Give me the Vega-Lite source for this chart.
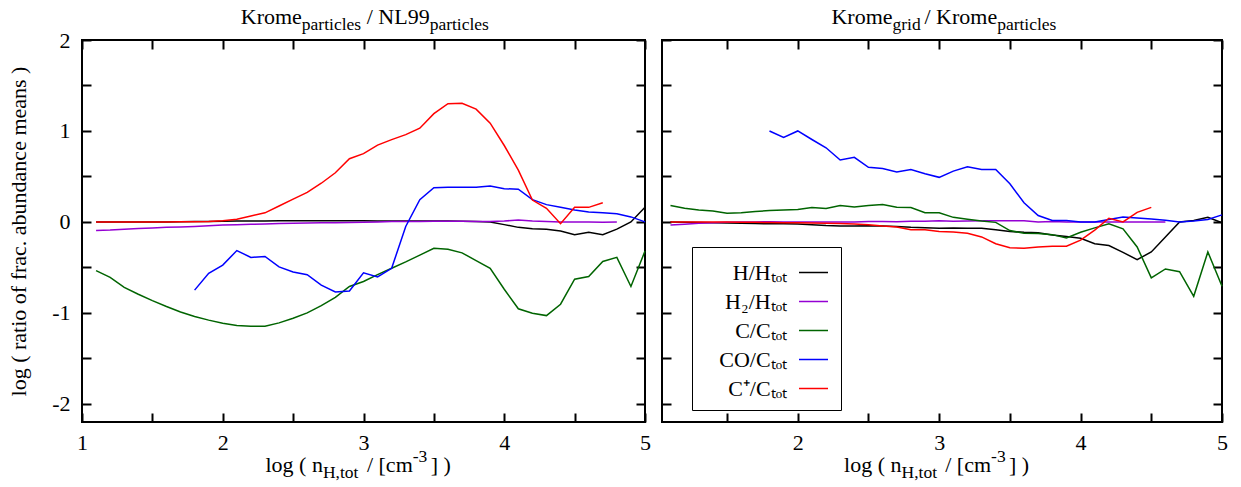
{
"$schema": "https://vega.github.io/schema/vega-lite/v6.json",
"background": "white",
"padding": {"left": 6, "top": 4, "right": 10, "bottom": 5},
"spacing": 8,
"config": {
 "view": {"stroke": "black", "strokeWidth": 2},
 "font": "Liberation Serif",
 "axis": {"grid": false, "domain": false, "tickColor": "black", "tickSize": -9, "tickWidth": 2, "labelFont": "Liberation Serif", "labelFontSize": 22, "labelColor": "black", "labelFlush": false, "labelOverlap": false, "titleFont": "Liberation Serif", "titleFontSize": 22, "titleFontWeight": "normal", "titleColor": "black"},
 "text": {"font": "Liberation Serif", "fontSize": 22, "baseline": "alphabetic", "color": "black"},
 "line": {"strokeWidth": 1.5}
},
"datasets": {
"L": [
{"s":"H","x":1.1,"y":0},{"s":"H","x":1.2,"y":0},{"s":"H","x":1.3,"y":0},{"s":"H","x":1.4,"y":0},{"s":"H","x":1.5,"y":0},{"s":"H","x":1.6,"y":0},{"s":"H","x":1.7,"y":0.002},{"s":"H","x":1.8,"y":0.004},{"s":"H","x":1.9,"y":0.005},{"s":"H","x":2.0,"y":0.008},{"s":"H","x":2.1,"y":0.01},{"s":"H","x":2.2,"y":0.01},{"s":"H","x":2.3,"y":0.01},{"s":"H","x":2.4,"y":0.012},{"s":"H","x":2.5,"y":0.013},{"s":"H","x":2.6,"y":0.013},{"s":"H","x":2.7,"y":0.014},{"s":"H","x":2.8,"y":0.014},{"s":"H","x":2.9,"y":0.013},{"s":"H","x":3.0,"y":0.012},{"s":"H","x":3.1,"y":0.01},{"s":"H","x":3.2,"y":0.01},{"s":"H","x":3.3,"y":0.01},{"s":"H","x":3.4,"y":0.01},{"s":"H","x":3.5,"y":0.01},{"s":"H","x":3.6,"y":0.01},{"s":"H","x":3.7,"y":0.008},{"s":"H","x":3.8,"y":0.005},{"s":"H","x":3.9,"y":0},{"s":"H","x":4.0,"y":-0.03},{"s":"H","x":4.1,"y":-0.06},{"s":"H","x":4.2,"y":-0.075},{"s":"H","x":4.3,"y":-0.08},{"s":"H","x":4.4,"y":-0.1},{"s":"H","x":4.5,"y":-0.14},{"s":"H","x":4.6,"y":-0.115},{"s":"H","x":4.7,"y":-0.14},{"s":"H","x":4.8,"y":-0.08},{"s":"H","x":4.9,"y":0},{"s":"H","x":5.0,"y":0.16},
{"s":"H2","x":1.1,"y":-0.095},{"s":"H2","x":1.2,"y":-0.09},{"s":"H2","x":1.3,"y":-0.08},{"s":"H2","x":1.4,"y":-0.072},{"s":"H2","x":1.5,"y":-0.066},{"s":"H2","x":1.6,"y":-0.06},{"s":"H2","x":1.7,"y":-0.055},{"s":"H2","x":1.8,"y":-0.05},{"s":"H2","x":1.9,"y":-0.042},{"s":"H2","x":2.0,"y":-0.035},{"s":"H2","x":2.1,"y":-0.03},{"s":"H2","x":2.2,"y":-0.026},{"s":"H2","x":2.3,"y":-0.022},{"s":"H2","x":2.4,"y":-0.018},{"s":"H2","x":2.5,"y":-0.015},{"s":"H2","x":2.6,"y":-0.012},{"s":"H2","x":2.7,"y":-0.01},{"s":"H2","x":2.8,"y":-0.008},{"s":"H2","x":2.9,"y":-0.006},{"s":"H2","x":3.0,"y":-0.004},{"s":"H2","x":3.1,"y":0},{"s":"H2","x":3.2,"y":0.004},{"s":"H2","x":3.3,"y":0.005},{"s":"H2","x":3.4,"y":0.005},{"s":"H2","x":3.5,"y":0.006},{"s":"H2","x":3.6,"y":0.006},{"s":"H2","x":3.7,"y":0.006},{"s":"H2","x":3.8,"y":0.004},{"s":"H2","x":3.9,"y":0.005},{"s":"H2","x":4.0,"y":0.01},{"s":"H2","x":4.1,"y":0.02},{"s":"H2","x":4.2,"y":0.01},{"s":"H2","x":4.3,"y":0.004},{"s":"H2","x":4.4,"y":0},{"s":"H2","x":4.5,"y":0},{"s":"H2","x":4.6,"y":0},{"s":"H2","x":4.7,"y":-0.004},{"s":"H2","x":4.8,"y":-0.002},
{"s":"C","x":1.1,"y":-0.535},{"s":"C","x":1.2,"y":-0.61},{"s":"C","x":1.3,"y":-0.72},{"s":"C","x":1.4,"y":-0.795},{"s":"C","x":1.5,"y":-0.865},{"s":"C","x":1.6,"y":-0.93},{"s":"C","x":1.7,"y":-0.99},{"s":"C","x":1.8,"y":-1.04},{"s":"C","x":1.9,"y":-1.08},{"s":"C","x":2.0,"y":-1.115},{"s":"C","x":2.1,"y":-1.14},{"s":"C","x":2.2,"y":-1.146},{"s":"C","x":2.3,"y":-1.146},{"s":"C","x":2.4,"y":-1.11},{"s":"C","x":2.5,"y":-1.06},{"s":"C","x":2.6,"y":-1.0},{"s":"C","x":2.7,"y":-0.92},{"s":"C","x":2.8,"y":-0.83},{"s":"C","x":2.9,"y":-0.71},{"s":"C","x":3.0,"y":-0.655},{"s":"C","x":3.1,"y":-0.58},{"s":"C","x":3.2,"y":-0.51},{"s":"C","x":3.3,"y":-0.44},{"s":"C","x":3.4,"y":-0.365},{"s":"C","x":3.5,"y":-0.29},{"s":"C","x":3.6,"y":-0.3},{"s":"C","x":3.7,"y":-0.34},{"s":"C","x":3.8,"y":-0.425},{"s":"C","x":3.9,"y":-0.51},{"s":"C","x":4.0,"y":-0.74},{"s":"C","x":4.1,"y":-0.955},{"s":"C","x":4.2,"y":-1.005},{"s":"C","x":4.3,"y":-1.03},{"s":"C","x":4.4,"y":-0.905},{"s":"C","x":4.5,"y":-0.63},{"s":"C","x":4.6,"y":-0.6},{"s":"C","x":4.7,"y":-0.435},{"s":"C","x":4.8,"y":-0.39},{"s":"C","x":4.9,"y":-0.71},{"s":"C","x":5.0,"y":-0.32},
{"s":"CO","x":1.8,"y":-0.75},{"s":"CO","x":1.9,"y":-0.565},{"s":"CO","x":2.0,"y":-0.475},{"s":"CO","x":2.1,"y":-0.315},{"s":"CO","x":2.2,"y":-0.39},{"s":"CO","x":2.3,"y":-0.38},{"s":"CO","x":2.4,"y":-0.495},{"s":"CO","x":2.5,"y":-0.55},{"s":"CO","x":2.6,"y":-0.58},{"s":"CO","x":2.7,"y":-0.695},{"s":"CO","x":2.8,"y":-0.77},{"s":"CO","x":2.9,"y":-0.76},{"s":"CO","x":3.0,"y":-0.56},{"s":"CO","x":3.1,"y":-0.605},{"s":"CO","x":3.2,"y":-0.51},{"s":"CO","x":3.3,"y":-0.05},{"s":"CO","x":3.4,"y":0.245},{"s":"CO","x":3.5,"y":0.375},{"s":"CO","x":3.6,"y":0.38},{"s":"CO","x":3.7,"y":0.38},{"s":"CO","x":3.8,"y":0.38},{"s":"CO","x":3.9,"y":0.395},{"s":"CO","x":4.0,"y":0.365},{"s":"CO","x":4.1,"y":0.36},{"s":"CO","x":4.2,"y":0.245},{"s":"CO","x":4.3,"y":0.19},{"s":"CO","x":4.4,"y":0.16},{"s":"CO","x":4.5,"y":0.13},{"s":"CO","x":4.6,"y":0.11},{"s":"CO","x":4.7,"y":0.1},{"s":"CO","x":4.8,"y":0.09},{"s":"CO","x":4.9,"y":0.055},{"s":"CO","x":5.0,"y":0},
{"s":"Cp","x":1.1,"y":0},{"s":"Cp","x":1.2,"y":0},{"s":"Cp","x":1.3,"y":0},{"s":"Cp","x":1.4,"y":0},{"s":"Cp","x":1.5,"y":0},{"s":"Cp","x":1.6,"y":0},{"s":"Cp","x":1.7,"y":0.001},{"s":"Cp","x":1.8,"y":0.002},{"s":"Cp","x":1.9,"y":0.005},{"s":"Cp","x":2.0,"y":0.012},{"s":"Cp","x":2.1,"y":0.03},{"s":"Cp","x":2.2,"y":0.065},{"s":"Cp","x":2.3,"y":0.1},{"s":"Cp","x":2.4,"y":0.175},{"s":"Cp","x":2.5,"y":0.25},{"s":"Cp","x":2.6,"y":0.325},{"s":"Cp","x":2.7,"y":0.425},{"s":"Cp","x":2.8,"y":0.54},{"s":"Cp","x":2.9,"y":0.695},{"s":"Cp","x":3.0,"y":0.75},{"s":"Cp","x":3.1,"y":0.845},{"s":"Cp","x":3.2,"y":0.905},{"s":"Cp","x":3.3,"y":0.96},{"s":"Cp","x":3.4,"y":1.03},{"s":"Cp","x":3.5,"y":1.19},{"s":"Cp","x":3.6,"y":1.3},{"s":"Cp","x":3.7,"y":1.305},{"s":"Cp","x":3.8,"y":1.24},{"s":"Cp","x":3.9,"y":1.085},{"s":"Cp","x":4.0,"y":0.84},{"s":"Cp","x":4.1,"y":0.57},{"s":"Cp","x":4.2,"y":0.24},{"s":"Cp","x":4.3,"y":0.15},{"s":"Cp","x":4.4,"y":-0.02},{"s":"Cp","x":4.5,"y":0.16},{"s":"Cp","x":4.6,"y":0.16},{"s":"Cp","x":4.7,"y":0.21}
],
"R": [
{"s":"H","x":1.1,"y":0},{"s":"H","x":1.2,"y":-0.003},{"s":"H","x":1.3,"y":-0.006},{"s":"H","x":1.4,"y":-0.01},{"s":"H","x":1.5,"y":-0.012},{"s":"H","x":1.6,"y":-0.015},{"s":"H","x":1.7,"y":-0.018},{"s":"H","x":1.8,"y":-0.02},{"s":"H","x":1.9,"y":-0.02},{"s":"H","x":2.0,"y":-0.022},{"s":"H","x":2.1,"y":-0.03},{"s":"H","x":2.2,"y":-0.04},{"s":"H","x":2.3,"y":-0.045},{"s":"H","x":2.4,"y":-0.045},{"s":"H","x":2.5,"y":-0.042},{"s":"H","x":2.6,"y":-0.045},{"s":"H","x":2.7,"y":-0.05},{"s":"H","x":2.8,"y":-0.06},{"s":"H","x":2.9,"y":-0.065},{"s":"H","x":3.0,"y":-0.07},{"s":"H","x":3.1,"y":-0.068},{"s":"H","x":3.2,"y":-0.07},{"s":"H","x":3.3,"y":-0.07},{"s":"H","x":3.4,"y":-0.085},{"s":"H","x":3.5,"y":-0.105},{"s":"H","x":3.6,"y":-0.115},{"s":"H","x":3.7,"y":-0.12},{"s":"H","x":3.8,"y":-0.145},{"s":"H","x":3.9,"y":-0.16},{"s":"H","x":4.0,"y":-0.18},{"s":"H","x":4.1,"y":-0.24},{"s":"H","x":4.2,"y":-0.26},{"s":"H","x":4.3,"y":-0.335},{"s":"H","x":4.4,"y":-0.415},{"s":"H","x":4.5,"y":-0.33},{"s":"H","x":4.6,"y":-0.165},{"s":"H","x":4.7,"y":0},{"s":"H","x":4.8,"y":0.015},{"s":"H","x":4.9,"y":0.05},{"s":"H","x":5.0,"y":-0.01},
{"s":"H2","x":1.1,"y":-0.035},{"s":"H2","x":1.2,"y":-0.025},{"s":"H2","x":1.3,"y":-0.015},{"s":"H2","x":1.4,"y":-0.008},{"s":"H2","x":1.5,"y":-0.004},{"s":"H2","x":1.6,"y":-0.002},{"s":"H2","x":1.7,"y":0},{"s":"H2","x":1.8,"y":0.002},{"s":"H2","x":1.9,"y":0},{"s":"H2","x":2.0,"y":-0.002},{"s":"H2","x":2.1,"y":0},{"s":"H2","x":2.2,"y":0},{"s":"H2","x":2.3,"y":0},{"s":"H2","x":2.4,"y":-0.002},{"s":"H2","x":2.5,"y":0.004},{"s":"H2","x":2.6,"y":0.005},{"s":"H2","x":2.7,"y":0.002},{"s":"H2","x":2.8,"y":0.006},{"s":"H2","x":2.9,"y":0.007},{"s":"H2","x":3.0,"y":0.014},{"s":"H2","x":3.1,"y":0.006},{"s":"H2","x":3.2,"y":0.01},{"s":"H2","x":3.3,"y":0.012},{"s":"H2","x":3.4,"y":0.012},{"s":"H2","x":3.5,"y":0.014},{"s":"H2","x":3.6,"y":0.012},{"s":"H2","x":3.7,"y":0},{"s":"H2","x":3.8,"y":0.004},{"s":"H2","x":3.9,"y":0},{"s":"H2","x":4.0,"y":0},{"s":"H2","x":4.1,"y":0},{"s":"H2","x":4.2,"y":0},{"s":"H2","x":4.3,"y":0},{"s":"H2","x":4.4,"y":0},{"s":"H2","x":4.5,"y":0},{"s":"H2","x":4.6,"y":0},
{"s":"C","x":1.1,"y":0.18},{"s":"C","x":1.2,"y":0.15},{"s":"C","x":1.3,"y":0.13},{"s":"C","x":1.4,"y":0.12},{"s":"C","x":1.5,"y":0.095},{"s":"C","x":1.6,"y":0.1},{"s":"C","x":1.7,"y":0.114},{"s":"C","x":1.8,"y":0.125},{"s":"C","x":1.9,"y":0.13},{"s":"C","x":2.0,"y":0.136},{"s":"C","x":2.1,"y":0.158},{"s":"C","x":2.2,"y":0.147},{"s":"C","x":2.3,"y":0.18},{"s":"C","x":2.4,"y":0.165},{"s":"C","x":2.5,"y":0.18},{"s":"C","x":2.6,"y":0.19},{"s":"C","x":2.7,"y":0.16},{"s":"C","x":2.8,"y":0.158},{"s":"C","x":2.9,"y":0.1},{"s":"C","x":3.0,"y":0.1},{"s":"C","x":3.1,"y":0.05},{"s":"C","x":3.2,"y":0.03},{"s":"C","x":3.3,"y":0.01},{"s":"C","x":3.4,"y":-0.005},{"s":"C","x":3.5,"y":-0.095},{"s":"C","x":3.6,"y":-0.125},{"s":"C","x":3.7,"y":-0.128},{"s":"C","x":3.8,"y":-0.14},{"s":"C","x":3.9,"y":-0.176},{"s":"C","x":4.0,"y":-0.114},{"s":"C","x":4.1,"y":-0.066},{"s":"C","x":4.2,"y":-0.02},{"s":"C","x":4.3,"y":-0.077},{"s":"C","x":4.4,"y":-0.275},{"s":"C","x":4.5,"y":-0.616},{"s":"C","x":4.6,"y":-0.517},{"s":"C","x":4.7,"y":-0.547},{"s":"C","x":4.8,"y":-0.818},{"s":"C","x":4.9,"y":-0.33},{"s":"C","x":5.0,"y":-0.708},
{"s":"CO","x":1.8,"y":1.0},{"s":"CO","x":1.9,"y":0.93},{"s":"CO","x":2.0,"y":1.0},{"s":"CO","x":2.1,"y":0.906},{"s":"CO","x":2.2,"y":0.815},{"s":"CO","x":2.3,"y":0.68},{"s":"CO","x":2.4,"y":0.71},{"s":"CO","x":2.5,"y":0.6},{"s":"CO","x":2.6,"y":0.587},{"s":"CO","x":2.7,"y":0.55},{"s":"CO","x":2.8,"y":0.576},{"s":"CO","x":2.9,"y":0.53},{"s":"CO","x":3.0,"y":0.49},{"s":"CO","x":3.1,"y":0.558},{"s":"CO","x":3.2,"y":0.605},{"s":"CO","x":3.3,"y":0.576},{"s":"CO","x":3.4,"y":0.576},{"s":"CO","x":3.5,"y":0.42},{"s":"CO","x":3.6,"y":0.21},{"s":"CO","x":3.7,"y":0.07},{"s":"CO","x":3.8,"y":0.015},{"s":"CO","x":3.9,"y":0.015},{"s":"CO","x":4.0,"y":0},{"s":"CO","x":4.1,"y":0},{"s":"CO","x":4.2,"y":0.026},{"s":"CO","x":4.3,"y":0.055},{"s":"CO","x":4.4,"y":0.044},{"s":"CO","x":4.5,"y":0.033},{"s":"CO","x":4.6,"y":0.018},{"s":"CO","x":4.7,"y":0},{"s":"CO","x":4.8,"y":0.01},{"s":"CO","x":4.9,"y":0.026},{"s":"CO","x":5.0,"y":0.077},
{"s":"Cp","x":1.1,"y":0},{"s":"Cp","x":1.2,"y":0},{"s":"Cp","x":1.3,"y":0},{"s":"Cp","x":1.4,"y":0},{"s":"Cp","x":1.5,"y":-0.002},{"s":"Cp","x":1.6,"y":-0.004},{"s":"Cp","x":1.7,"y":-0.005},{"s":"Cp","x":1.8,"y":-0.006},{"s":"Cp","x":1.9,"y":-0.008},{"s":"Cp","x":2.0,"y":-0.01},{"s":"Cp","x":2.1,"y":-0.012},{"s":"Cp","x":2.2,"y":-0.015},{"s":"Cp","x":2.3,"y":-0.018},{"s":"Cp","x":2.4,"y":-0.022},{"s":"Cp","x":2.5,"y":-0.03},{"s":"Cp","x":2.6,"y":-0.045},{"s":"Cp","x":2.7,"y":-0.055},{"s":"Cp","x":2.8,"y":-0.085},{"s":"Cp","x":2.9,"y":-0.085},{"s":"Cp","x":3.0,"y":-0.105},{"s":"Cp","x":3.1,"y":-0.11},{"s":"Cp","x":3.2,"y":-0.125},{"s":"Cp","x":3.3,"y":-0.165},{"s":"Cp","x":3.4,"y":-0.24},{"s":"Cp","x":3.5,"y":-0.285},{"s":"Cp","x":3.6,"y":-0.29},{"s":"Cp","x":3.7,"y":-0.275},{"s":"Cp","x":3.8,"y":-0.268},{"s":"Cp","x":3.9,"y":-0.268},{"s":"Cp","x":4.0,"y":-0.2},{"s":"Cp","x":4.1,"y":-0.09},{"s":"Cp","x":4.2,"y":0.04},{"s":"Cp","x":4.3,"y":0},{"s":"Cp","x":4.4,"y":0.105},{"s":"Cp","x":4.5,"y":0.16}
]
},
"hconcat": [
{
 "width": 563, "height": 382,
 "layer": [
  {"data": {"name": "L"}, "mark": {"type": "line", "strokeWidth": 1.5},
   "encoding": {
    "x": {"field": "x", "type": "quantitative", "scale": {"domain": [1, 5], "nice": false, "zero": false},
          "axis": {"orient": "bottom", "values": [1,1.5,2,2.5,3,3.5,4,4.5,5], "labelExpr": "datum.value % 1 == 0 ? '' + datum.value : ''", "title": null, "labelPadding": 19}},
    "y": {"field": "y", "type": "quantitative", "scale": {"domain": [-2.2, 2], "nice": false, "zero": false},
          "axis": {"orient": "left", "values": [-2,-1.5,-1,-0.5,0,0.5,1,1.5,2], "labelExpr": "datum.value % 1 == 0 ? '' + datum.value : ''", "title": "log ( ratio of frac. abundance means )", "labelPadding": 21, "titlePadding": 21}},
    "color": {"field": "s", "type": "nominal", "scale": {"domain": ["H","H2","C","CO","Cp"], "range": ["#000000","#9400d3","#006400","#0000ff","#ff0000"]}, "legend": null}
   }},
  {"data": {"values": [{}]}, "mark": {"type": "text", "text": "Krome", "align": "right"},
   "encoding": {
    "x": {"datum": 2.562, "type": "quantitative", "scale": {"domain": [1, 5], "nice": false, "zero": false}, "axis": {"orient": "top", "values": [1,1.5,2,2.5,3,3.5,4,4.5,5], "labels": false, "title": null}},
    "y": {"datum": 2.176, "type": "quantitative", "scale": {"domain": [-2.2, 2], "nice": false, "zero": false}, "axis": {"orient": "right", "values": [-2,-1.5,-1,-0.5,0,0.5,1,1.5,2], "labels": false, "title": null}}
   }},
  {"data": {"values": [{}]}, "mark": {"type": "text", "text": "particles", "align": "left", "fontSize": 17.5},
   "encoding": {"x": {"datum": 2.562, "type": "quantitative", "axis": null}, "y": {"datum": 2.11, "type": "quantitative", "axis": null}}},
  {"data": {"values": [{}]}, "mark": {"type": "text", "text": "/ NL99", "align": "right"},
   "encoding": {"x": {"datum": 3.47, "type": "quantitative", "axis": null}, "y": {"datum": 2.176, "type": "quantitative", "axis": null}}},
  {"data": {"values": [{}]}, "mark": {"type": "text", "text": "particles", "align": "left", "fontSize": 17.5},
   "encoding": {"x": {"datum": 3.47, "type": "quantitative", "axis": null}, "y": {"datum": 2.11, "type": "quantitative", "axis": null}}},
  {"data": {"values": [{}]}, "mark": {"type": "text", "text": "log ( n", "align": "right"},
   "encoding": {"x": {"datum": 2.712, "type": "quantitative", "axis": null}, "y": {"datum": -2.749, "type": "quantitative", "axis": null}}},
  {"data": {"values": [{}]}, "mark": {"type": "text", "text": "H,tot", "align": "left", "fontSize": 17.5},
   "encoding": {"x": {"datum": 2.712, "type": "quantitative", "axis": null}, "y": {"datum": -2.815, "type": "quantitative", "axis": null}}},
  {"data": {"values": [{}]}, "mark": {"type": "text", "text": "/ [cm", "align": "right"},
   "encoding": {"x": {"datum": 3.35, "type": "quantitative", "axis": null}, "y": {"datum": -2.749, "type": "quantitative", "axis": null}}},
  {"data": {"values": [{}]}, "mark": {"type": "text", "text": "-3", "align": "left", "fontSize": 17.5},
   "encoding": {"x": {"datum": 3.35, "type": "quantitative", "axis": null}, "y": {"datum": -2.64, "type": "quantitative", "axis": null}}},
  {"data": {"values": [{}]}, "mark": {"type": "text", "text": "] )", "align": "left"},
   "encoding": {"x": {"datum": 3.478, "type": "quantitative", "axis": null}, "y": {"datum": -2.749, "type": "quantitative", "axis": null}}}
 ],
 "resolve": {"axis": {"x": "independent", "y": "independent"}}
},
{
 "width": 560, "height": 382,
 "layer": [
  {"data": {"name": "R"}, "mark": {"type": "line", "strokeWidth": 1.5},
   "encoding": {
    "x": {"field": "x", "type": "quantitative", "scale": {"domain": [1.04, 5], "nice": false, "zero": false},
          "axis": {"orient": "bottom", "values": [1.5,2,2.5,3,3.5,4,4.5,5], "labelExpr": "datum.value % 1 == 0 ? '' + datum.value : ''", "title": null, "labelPadding": 19}},
    "y": {"field": "y", "type": "quantitative", "scale": {"domain": [-2.2, 2], "nice": false, "zero": false},
          "axis": {"orient": "left", "values": [-2,-1.5,-1,-0.5,0,0.5,1,1.5,2], "labels": false, "title": null}},
    "color": {"field": "s", "type": "nominal", "scale": {"domain": ["H","H2","C","CO","Cp"], "range": ["#000000","#9400d3","#006400","#0000ff","#ff0000"]},
      "legend": {"orient": "none", "legendX": 30, "legendY": 207, "title": null, "symbolType": "stroke", "symbolSize": 841, "symbolStrokeWidth": 1.5, "symbolOffset": 96, "labelFont": "Liberation Serif", "labelFontSize": 22, "labelColor": "black", "labelAlign": "right", "labelOffset": -42, "strokeColor": "black", "fillColor": "white", "padding": 10, "rowPadding": 2,
        "labelExpr": "datum.value == 'H' ? 'H/Hₜₒₜ' : datum.value == 'H2' ? 'H₂/Hₜₒₜ' : datum.value == 'C' ? 'C/Cₜₒₜ' : datum.value == 'CO' ? 'CO/Cₜₒₜ' : 'C⁺/Cₜₒₜ'"}}
   }},
  {"data": {"values": [{}]}, "mark": {"type": "text", "text": "Krome", "align": "right"},
   "encoding": {
    "x": {"datum": 2.67, "type": "quantitative", "scale": {"domain": [1.04, 5], "nice": false, "zero": false}, "axis": {"orient": "top", "values": [1.5,2,2.5,3,3.5,4,4.5,5], "labels": false, "title": null}},
    "y": {"datum": 2.176, "type": "quantitative", "scale": {"domain": [-2.2, 2], "nice": false, "zero": false}, "axis": {"orient": "right", "values": [-2,-1.5,-1,-0.5,0,0.5,1,1.5,2], "labels": false, "title": null}}
   }},
  {"data": {"values": [{}]}, "mark": {"type": "text", "text": "grid", "align": "left", "fontSize": 17.5},
   "encoding": {"x": {"datum": 2.67, "type": "quantitative", "axis": null}, "y": {"datum": 2.11, "type": "quantitative", "axis": null}}},
  {"data": {"values": [{}]}, "mark": {"type": "text", "text": "/ Krome", "align": "right"},
   "encoding": {"x": {"datum": 3.41, "type": "quantitative", "axis": null}, "y": {"datum": 2.176, "type": "quantitative", "axis": null}}},
  {"data": {"values": [{}]}, "mark": {"type": "text", "text": "particles", "align": "left", "fontSize": 17.5},
   "encoding": {"x": {"datum": 3.41, "type": "quantitative", "axis": null}, "y": {"datum": 2.11, "type": "quantitative", "axis": null}}},
  {"data": {"values": [{}]}, "mark": {"type": "text", "text": "log ( n", "align": "right"},
   "encoding": {"x": {"datum": 2.734, "type": "quantitative", "axis": null}, "y": {"datum": -2.749, "type": "quantitative", "axis": null}}},
  {"data": {"values": [{}]}, "mark": {"type": "text", "text": "H,tot", "align": "left", "fontSize": 17.5},
   "encoding": {"x": {"datum": 2.734, "type": "quantitative", "axis": null}, "y": {"datum": -2.815, "type": "quantitative", "axis": null}}},
  {"data": {"values": [{}]}, "mark": {"type": "text", "text": "/ [cm", "align": "right"},
   "encoding": {"x": {"datum": 3.367, "type": "quantitative", "axis": null}, "y": {"datum": -2.749, "type": "quantitative", "axis": null}}},
  {"data": {"values": [{}]}, "mark": {"type": "text", "text": "-3", "align": "left", "fontSize": 17.5},
   "encoding": {"x": {"datum": 3.367, "type": "quantitative", "axis": null}, "y": {"datum": -2.64, "type": "quantitative", "axis": null}}},
  {"data": {"values": [{}]}, "mark": {"type": "text", "text": "] )", "align": "left"},
   "encoding": {"x": {"datum": 3.494, "type": "quantitative", "axis": null}, "y": {"datum": -2.749, "type": "quantitative", "axis": null}}}
 ],
 "resolve": {"axis": {"x": "independent", "y": "independent"}}
}
],
"resolve": {"legend": {"color": "independent"}}
}
